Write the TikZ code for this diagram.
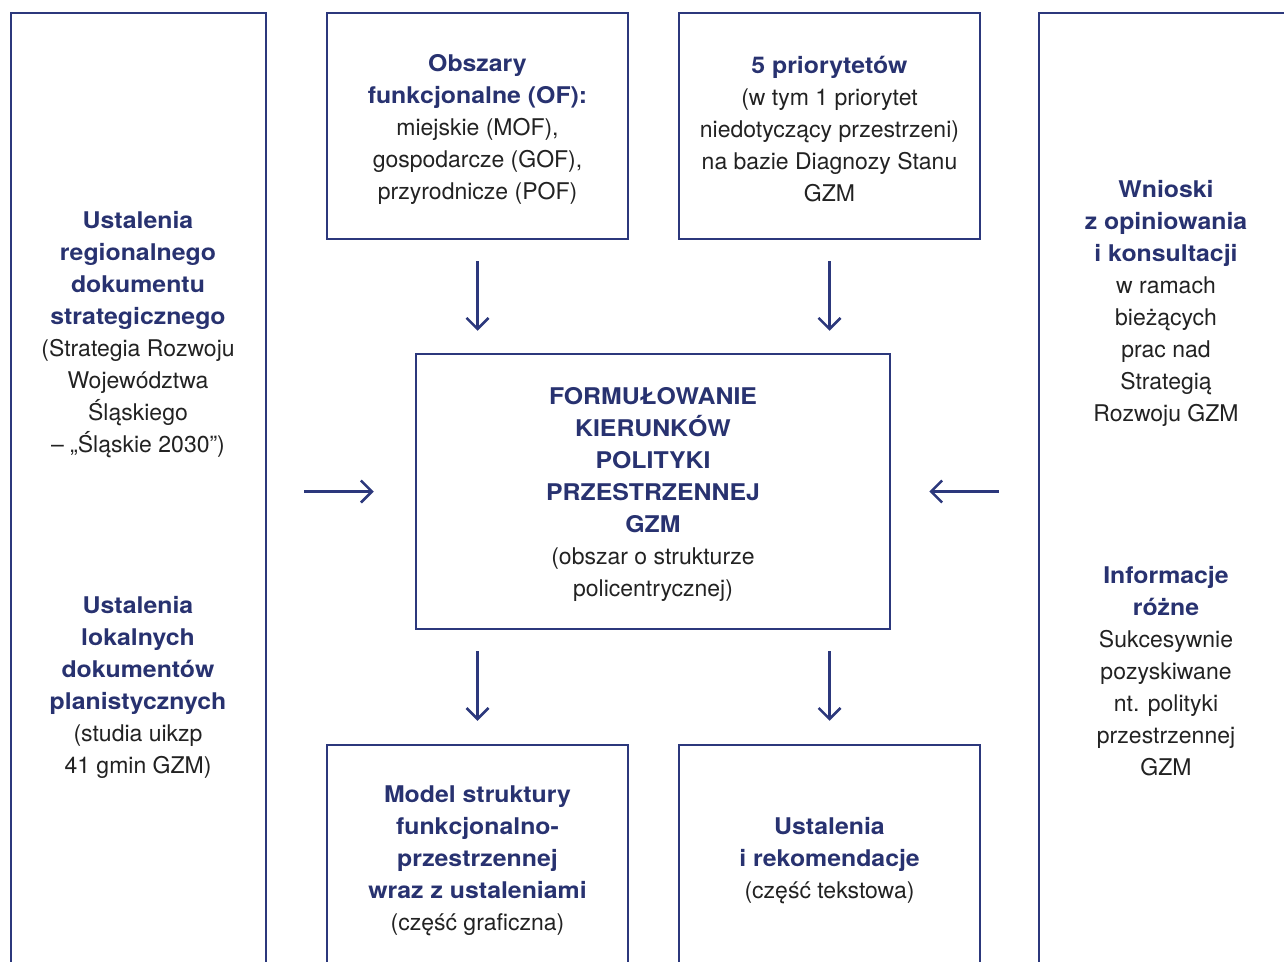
\documentclass[tikz,border=0pt]{standalone}
\usepackage{fontspec}
\setmainfont{TeX Gyre Heros}[BoldFeatures={FakeStretch=1.08}]
\usetikzlibrary{arrows.meta}
\definecolor{gzmnavy}{RGB}{40,50,112}
\definecolor{gzmline}{RGB}{44,56,124}
\definecolor{gzmtext}{RGB}{34,34,34}
\newcommand{\hd}[1]{{\bfseries\color{gzmnavy}#1}}

\begin{document}
\begin{tikzpicture}[x=1pt,y=-1pt,
  box/.style={draw=gzmline,line width=2.5pt,inner sep=0pt},
  txt/.style={align=center,text=gzmtext,font=\fontsize{23}{32}\selectfont,inner sep=0pt},
  arr/.style={gzmline,line width=2.5pt,-{Straight Barb[length=11pt,width=22pt]}}]
\clip (0,0) rectangle (1284,961);
% boxes (side and bottom ones are cut by the page edge)
\node (left) at (138.5,496) [box][minimum width=255][minimum height=966]{};
\node (right) at (1166.5,496) [box][minimum width=255][minimum height=966]{};
\node (of) at (477.5,126) [box][minimum width=301][minimum height=226]{};
\node (prio) at (829.5,126) [box][minimum width=301][minimum height=226]{};
\node (center) at (653,491.5) [box][minimum width=474][minimum height=275]{};
\node (model) at (477.5,858) [box][minimum width=301][minimum height=226]{};
\node (ust) at (829.5,858) [box][minimum width=301][minimum height=226]{};
% texts
\node (ltop) at (138,335) [txt]{\hd{Ustalenia}\\ \hd{regionalnego}\\ \hd{dokumentu}\\ \hd{strategicznego}\\ (Strategia Rozwoju\\ Województwa\\ Śląskiego\\ – „Śląskie 2030”)};
\node (lbot) at (138,687) [txt]{\hd{Ustalenia}\\ \hd{lokalnych}\\ \hd{dokumentów}\\ \hd{planistycznych}\\ (studia uikzp\\ 41 gmin GZM)};
\node (rtop) at (1166,303) [txt]{\hd{Wnioski}\\ \hd{z opiniowania}\\ \hd{i konsultacji}\\ w ramach\\ bieżących\\ prac nad\\ Strategią\\ Rozwoju GZM};
\node (rbot) at (1166,671) [txt]{\hd{Informacje}\\ \hd{różne}\\ Sukcesywnie\\ pozyskiwane\\ nt. polityki\\ przestrzennej\\ GZM};
\node (oftxt) at (477.5,129) [txt]{\hd{Obszary}\\ \hd{funkcjonalne (OF):}\\ miejskie (MOF),\\ gospodarcze (GOF),\\ przyrodnicze (POF)};
\node (priotxt) at (829.5,129) [txt]{\hd{5 priorytetów}\\ (w tym 1 priorytet\\ niedotyczący przestrzeni)\\ na bazie Diagnozy Stanu\\ GZM};
\node (centertxt) at (653,494.5) [txt]{\hd{FORMUŁOWANIE}\\ \hd{KIERUNKÓW}\\ \hd{POLITYKI}\\ \hd{PRZESTRZENNEJ}\\ \hd{GZM}\\ (obszar o strukturze\\ policentrycznej)};
\node (modeltxt) at (477.5,861) [txt]{\hd{Model struktury}\\ \hd{funkcjonalno-}\\ \hd{przestrzennej}\\ \hd{wraz z ustaleniami}\\ (część graficzna)};
\node (usttxt) at (829.5,861) [txt]{\hd{Ustalenia}\\ \hd{i rekomendacje}\\ (część tekstowa)};
% arrows
\draw[arr,shorten <=21pt,shorten >=22pt] (of.south) -- (of.south |- center.north);
\draw[arr,shorten <=21pt,shorten >=22pt] (prio.south) -- (prio.south |- center.north);
\draw[arr,shorten <=21pt,shorten >=23pt] (center.south -| model.north) -- (model.north);
\draw[arr,shorten <=21pt,shorten >=23pt] (center.south -| ust.north) -- (ust.north);
\draw[arr,shorten <=37pt,shorten >=41pt] (left.east |- center) -- (center.west);
\draw[arr,shorten <=39pt,shorten >=38pt] (right.west |- center) -- (center.east);
\end{tikzpicture}
\end{document}
